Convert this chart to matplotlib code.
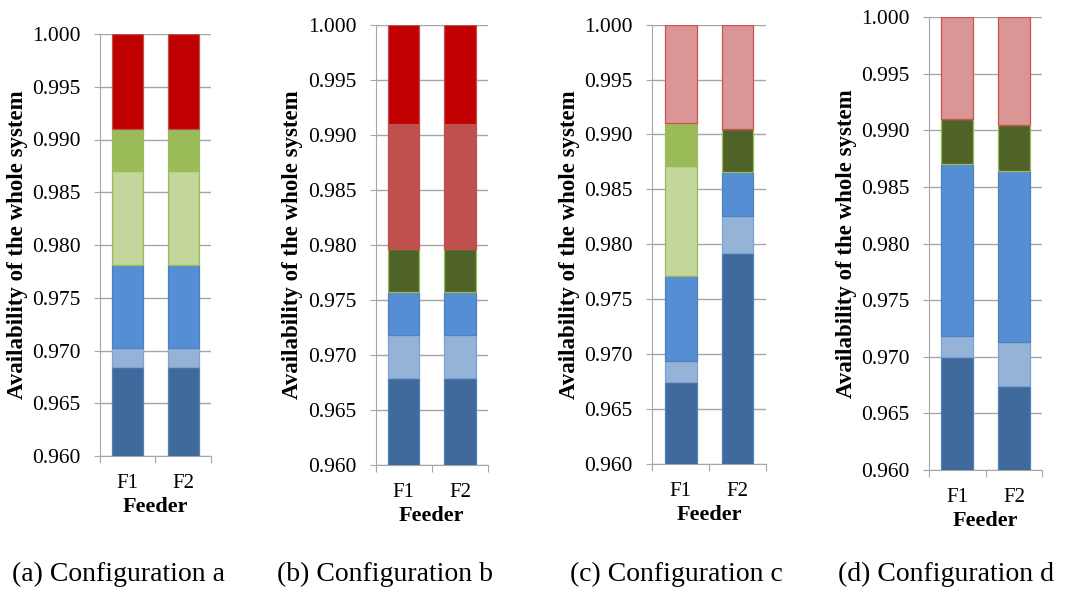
import numpy as np
import matplotlib
matplotlib.use('Agg')
import matplotlib.pyplot as plt

plt.rcParams['font.family'] = ['Liberation Serif', 'DejaVu Serif']

feeders = ['F1', 'F2']

# segment tops (availability), bottom segment first
a_layers = ['dark_blue', 'light_blue', 'blue', 'light_green', 'green', 'red']
a_f1 = [0.9684, 0.9702, 0.9781, 0.9870, 0.9910, 1.000]
a_f2 = [0.9684, 0.9702, 0.9781, 0.9870, 0.9910, 1.000]

b_layers = ['dark_blue', 'light_blue', 'blue', 'dark_green', 'brick', 'red']
b_f1 = [0.9679, 0.9718, 0.9757, 0.9796, 0.9910, 1.000]
b_f2 = [0.9679, 0.9718, 0.9757, 0.9796, 0.9910, 1.000]

c_layers = ['dark_blue', 'light_blue', 'blue', 'light_green', 'green', 'dark_green', 'pink']
c_f1 = [0.9674, 0.9694, 0.9771, 0.9871, 0.9910, 0.9910, 1.000]
c_f2 = [0.9792, 0.9826, 0.9866, 0.9866, 0.9866, 0.9905, 1.000]

d_layers = ['dark_blue', 'light_blue', 'blue', 'dark_green', 'pink']
d_f1 = [0.9700, 0.9718, 0.9870, 0.9910, 1.000]
d_f2 = [0.9674, 0.9713, 0.98645, 0.9905, 1.000]

captions = ['(a) Configuration a', '(b) Configuration b',
            '(c) Configuration c', '(d) Configuration d']

fills = {
    'dark_blue': '#416A9C', 'light_blue': '#95B3D7', 'blue': '#558ED5',
    'light_green': '#C3D69B', 'green': '#9BBB59', 'dark_green': '#4F6228',
    'brick': '#C0504D', 'red': '#C00000', 'pink': '#D99694',
}
edges = {
    'dark_blue': '#4F81BD', 'light_blue': '#7FA3D0', 'blue': '#4F81BD',
    'light_green': '#9BBB59', 'green': '#9BBB59', 'dark_green': '#9BBB59',
    'brick': '#C0504D', 'red': '#C0504D', 'pink': '#D0504D',
}

W, H = 1065, 592
# axes boxes in pixels: left, right, top, bottom
boxes = [(100, 210.7, 34, 456), (375.7, 488, 24.7, 465),
         (652.3, 766, 24.7, 463.7), (929, 1042.3, 17.3, 470)]
cap_x = [118, 385, 676, 946]

fig = plt.figure(figsize=(W / 100, H / 100), dpi=100)

panels = [(a_layers, a_f1, a_f2), (b_layers, b_f1, b_f2),
          (c_layers, c_f1, c_f2), (d_layers, d_f1, d_f2)]

for (layers, f1, f2), (l, r, t, b), cx, cap in zip(panels, boxes, cap_x, captions):
    ax = fig.add_axes([l / W, 1 - b / H, (r - l) / W, (b - t) / H])
    tops = np.array([f1, f2])
    x = np.arange(len(feeders))
    for i, name in enumerate(layers):
        bottom = tops[:, i - 1] if i > 0 else np.zeros(2)
        h = tops[:, i] - bottom
        keep = h > 0
        ax.bar(x[keep], h[keep], bottom=bottom[keep], width=0.56,
               color=fills[name], edgecolor=edges[name], linewidth=0.9, zorder=3)
    ax.set_ylim(0.96, 1.0)
    ax.set_xlim(-0.5, 1.5)
    ax.set_yticks(np.arange(0.96, 1.0001, 0.005))
    ax.set_yticklabels([f'{v:.3f}' for v in np.arange(0.96, 1.0001, 0.005)])
    ax.yaxis.grid(True, color='#A6A6A6', linewidth=1, zorder=0)
    ax.set_xticks([-0.5, 0.5, 1.5])
    ax.set_xticklabels([])
    ax.set_xticks(x, minor=True)
    ax.set_xticklabels(feeders, minor=True)
    ax.tick_params(axis='x', which='major', length=5, color='#A6A6A6', direction='out')
    ax.tick_params(axis='x', which='minor', length=0, pad=13, labelsize=15)
    ax.tick_params(axis='y', length=4, color='#A6A6A6', pad=10, labelsize=15.5)
    for s in ['top', 'right']:
        ax.spines[s].set_visible(False)
    for s in ['left', 'bottom']:
        ax.spines[s].set_color('#A6A6A6')
    ax.set_ylabel('Availability of the whole system', fontsize=16.5,
                  fontweight='bold', labelpad=3)
    ax.set_xlabel('Feeder', fontsize=16, fontweight='bold', labelpad=3)
    fig.text(cx / W, 1 - 574 / H, cap, ha='center', va='center', fontsize=20)

fig.savefig('out.png', dpi=100)
